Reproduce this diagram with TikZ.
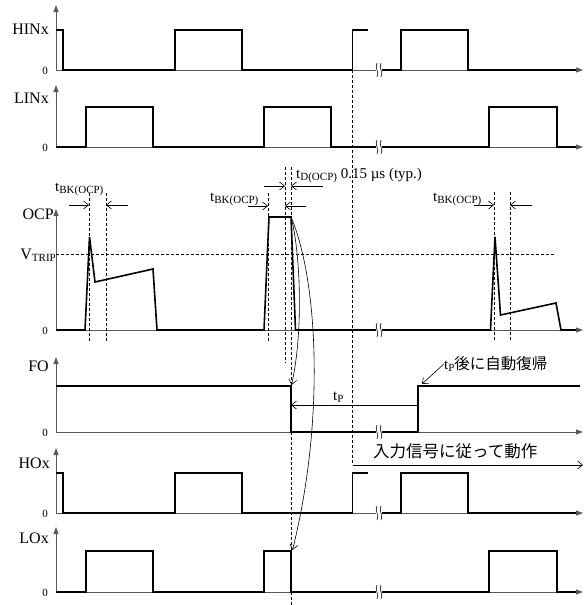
\documentclass[tikz,border=0pt]{standalone}
\usepackage{fontspec}
\setmainfont{Liberation Serif}
\newfontfamily\jpfont{Noto Sans CJK JP}
\usetikzlibrary{arrows.meta,positioning}
\definecolor{axisgray}{rgb}{0.35,0.35,0.35}
\newcommand{\sbs}[1]{\raisebox{-0.4ex}{\fontsize{11}{11}\selectfont #1}}

\begin{document}
\begin{tikzpicture}[x=1pt,y=-1pt,
    sig/.style={line width=1.6pt,line join=miter},
    ax/.style={axisgray,line width=0.8pt},
    axy/.style={ax,-{Triangle[length=7pt,width=5pt]}},
    dsh/.style={line width=0.6pt,dash pattern=on 3pt off 2pt},
    dim/.style={line width=0.6pt,-{Straight Barb[length=5pt,width=8pt]}},
    lbl/.style={anchor=base east,inner sep=0pt,font=\fontsize{16}{16}\selectfont},
    zro/.style={anchor=base east,inner sep=0pt,font=\fontsize{11}{11}\selectfont},
    tlbl/.style={anchor=base west,inner sep=0pt,font=\fontsize{15}{15}\selectfont},
    brk/.pic={\draw[line width=0.6pt] (-2,-7) .. controls (-5,-2) and (1,2) .. (-2,7);
              \draw[line width=0.6pt] (2,-7) .. controls (-1,-2) and (5,2) .. (2,7);}]
    \useasboundingbox (0,0) rectangle (584,605);

    % axes
    \foreach \z/\t in {70/5,147/85,330/209,432/357,513/448,592/527}{
        \draw[axy] (56,\z) -- (56,\t);
        \draw[ax] (56,\z) -- (376,\z);
        \draw[axy] (382,\z) -- (583,\z);
        \pic at (379,\z) {brk};
        \node[zro] (zero\z) at (48,\z+4) {0};
    }

    % signal names
    \node[lbl] (hin) at (49,34) {HINx};
    \node[lbl] (lin) at (49,103) {LINx};
    \node[lbl] (ocp) at (54,219) {OCP};
    \node[lbl] (vtrip) at (56,259) {V\sbs{TRIP}};
    \node[lbl] (fo) at (49,371) {FO};
    \node[lbl] (hox) at (50,468) {HOx};
    \node[lbl] (lox) at (49,543) {LOx};

    % dashed guides
    \draw[dsh] (56,254) -- (556,254);
    \draw[dsh] (352.5,70) -- (352.5,465);
    \draw[dsh] (89,193) -- (89,342);
    \draw[dsh] (106,193) -- (106,342);
    \draw[dsh] (268,193) -- (268,342);
    \draw[dsh] (285,167) -- (285,363);
    \draw[dsh] (291,167) -- (291,605);
    \draw[dsh] (494,192) -- (494,342);
    \draw[dsh] (510,192) -- (510,342);

    % waveforms
    \draw[sig] (56,30) -- (63,30) -- (63,70) -- (175,70) -- (175,30) -- (242,30) -- (242,70) -- (352.5,70) -- (352.5,30) -- (368,30);
    \draw[sig] (382,70) -- (401,70) -- (401,30) -- (468,30) -- (468,70) -- (576,70);

    \draw[sig] (56,147) -- (86,147) -- (86,107) -- (153,107) -- (153,147) -- (264,147) -- (264,107) -- (331,107) -- (331,147) -- (376,147);
    \draw[sig] (382,147) -- (489,147) -- (489,107) -- (557,107) -- (557,147) -- (576,147);

    \draw[sig] (56,330) -- (85,330) -- (89.5,237) -- (95,282) -- (153,269) -- (157,330) -- (264,330) -- (269,217) -- (291,217) -- (295.5,330) -- (376,330);
    \draw[sig] (382,330) -- (490.5,330) -- (495,237) -- (500.5,315) -- (556,303) -- (561,330) -- (576,330);

    \draw[sig] (56,386) -- (291,386) -- (291,432) -- (376,432);
    \draw[sig] (382,432) -- (418,432) -- (418,386) -- (580,386);

    \draw[sig] (56,473) -- (63,473) -- (63,513) -- (175,513) -- (175,473) -- (242,473) -- (242,513) -- (352.5,513) -- (352.5,473) -- (368,473);
    \draw[sig] (382,513) -- (401,513) -- (401,473) -- (468,473) -- (468,513) -- (576,513);

    \draw[sig] (56,592) -- (86,592) -- (86,551) -- (153,551) -- (153,592) -- (264,592) -- (264,551) -- (291,551) -- (291,592) -- (376,592);
    \draw[sig] (382,592) -- (489,592) -- (489,551) -- (557,551) -- (557,592) -- (576,592);

    % timing labels
    \node[tlbl] (tbk1) at (55,191) {t\sbs{BK(OCP)}};
    \node[tlbl] (tbk2) at (210,201) {t\sbs{BK(OCP)}};
    \node[tlbl] (tbk3) at (433,201) {t\sbs{BK(OCP)}};
    \node[tlbl] (td) at (296,178) {t\sbs{D(OCP)} 0.15 µs (typ.)};
    \node[tlbl] (tp) at (333,400) {t\sbs{P}};
    \node[tlbl] (autoret) at (444,369) {t\sbs{P}\jpfont\fontsize{15.5}{15.5}\selectfont 後に自動復帰};
    \node[tlbl] (follow) at (373,457) {\jpfont\fontsize{16.5}{16.5}\selectfont 入力信号に従って動作};

    % dimension arrows
    \draw[dim] (69,205) -- (89,205);
    \draw[dim] (128,205) -- (106,205);
    \draw[dim] (248,206) -- (268,206);
    \draw[dim] (306,206) -- (285,206);
    \draw[dim] (264,186) -- (285,186);
    \draw[dim] (323,186) -- (291,186);
    \draw[dim] (474,205) -- (494,205);
    \draw[dim] (532,205) -- (510,205);
    \draw[dim,{Straight Barb[length=5pt,width=8pt]}-] (291,405) -- (418,405);
    \draw[dim] (352.5,465) -- (583,465);

    % cause arrows
    \coordinate (ocptop) at (291,217);
    \coordinate (fofall) at (291.5,385);
    \coordinate (loxfall) at (292.5,550);
    \coordinate (forise) at (422,384);
    \draw[dim] (ocptop) .. controls (300,250) and (304,330) .. (fofall);
    \draw[dim] (ocptop) .. controls (318,280) and (325,420) .. (loxfall);
    \draw[dim] (autoret.west) -- (forise);
\end{tikzpicture}
\end{document}
